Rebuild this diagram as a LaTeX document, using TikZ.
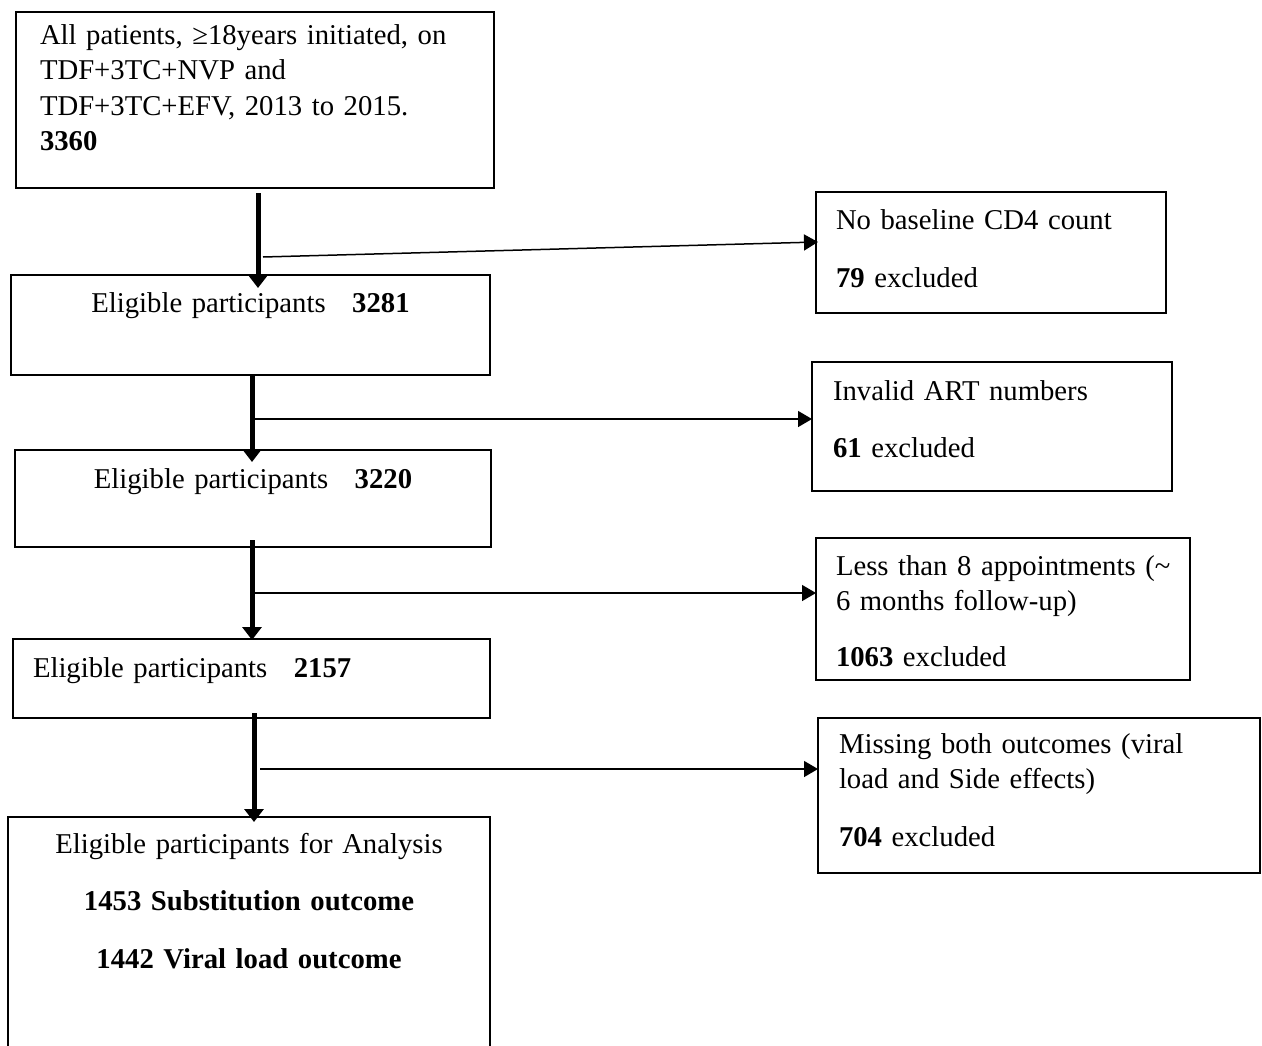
\documentclass[tikz,border=0pt]{standalone}
\usepackage{fontspec}
\setmainfont{Liberation Serif}
\usetikzlibrary{arrows.meta, calc}
\tikzset{
  every picture/.style={x=1pt, y=-1pt, line width=2pt},
  box/.style={draw, line width=2pt, anchor=north west, inner ysep=0pt, outer sep=0pt,
    font=\fontsize{28.7}{35.5}\selectfont},
  flow/.style={-{Triangle[length=13pt, width=19pt]}, line width=5pt},
  side/.style={-{Triangle[length=14pt, width=16pt]}, line width=1.5pt},
}
\begin{document}
\begin{tikzpicture}
  \useasboundingbox (0,0) rectangle (1262,1045);
  % main column
  \node[box, align=left, inner xsep=24pt, text width=430pt, text height=32pt, text depth=144pt] (start) at (16,12)
    {All patients, ≥18years initiated, on\\TDF+3TC+NVP and\\TDF+3TC+EFV, 2013 to 2015.\\\textbf{3360}};
  \node[box, align=center, inner xsep=10pt, text width=459pt, text height=37pt, text depth=63pt] (elig1) at (11,275)
    {Eligible participants \hspace{17pt}\textbf{3281}};
  \node[box, align=center, inner xsep=10pt, text width=456pt, text height=38pt, text depth=59pt] (elig2) at (15,450)
    {Eligible participants \hspace{17pt}\textbf{3220}};
  \node[box, align=left, inner xsep=20pt, text width=437pt, text height=38pt, text depth=41pt] (elig3) at (13,639)
    {Eligible participants \hspace{17pt}\textbf{2157}};
  \node[box, align=center, inner xsep=10pt, text width=462pt, text height=36pt, text depth=224pt] (final) at (8,817)
    {Eligible participants for Analysis\\[22pt]\textbf{1453 Substitution outcome}\\[22pt]\textbf{1442 Viral load outcome}};
  % exclusions
  \node[box, align=left, inner xsep=20pt, text width=310pt, text height=37pt, text depth=84pt] (nobase) at (816,192)
    {No baseline CD4 count\\[22.5pt]\textbf{79} excluded};
  \node[box, align=left, inner xsep=21pt, text width=318pt, text height=38pt, text depth=91pt] (invalid) at (812,362)
    {Invalid ART numbers\\[21.5pt]\textbf{61} excluded};
  \node[box, align=left, inner xsep=20pt, text width=334pt, text height=37pt, text depth=105pt] (fewvisit) at (816,538)
    {\mbox{Less than 8 appointments (\textasciitilde}\\6 months follow-up)\\[20.5pt]\textbf{1063} excluded};
  \node[box, align=left, inner xsep=21pt, text width=400pt, text height=35pt, text depth=120pt] (missing) at (818,718)
    {Missing both outcomes (viral\\load and Side effects)\\[22.5pt]\textbf{704} excluded};
  % arrows down
  \draw[flow] ($(start.south)+(3,5)$) -- ($(elig1.north)+(7.5,13)$);
  \draw[flow] ($(elig1.south)+(1.5,-1)$) -- ($(elig2.north)+(-1,12)$);
  \draw[flow] ($(elig2.south)+(-1,-7)$) -- ($(elig3.north)+(0.5,1)$);
  \draw[flow] ($(elig3.south)+(2.5,-5)$) -- ($(final.north)+(5,5)$);
  % arrows out
  \coordinate (j1) at (263,257);
  \coordinate (j2) at (253,419);
  \coordinate (j3) at (255,593);
  \coordinate (j4) at (260,769);
  \draw[side] (j1) -- ($(nobase.west)+(2,-10.5)$);
  \draw[side] (j2) -- ($(invalid.west)+(0,-7.5)$);
  \draw[side] (j3) -- ($(fewvisit.west)+(0,-16)$);
  \draw[side] (j4) -- ($(missing.west)+(0,-26.5)$);
\end{tikzpicture}
\end{document}
